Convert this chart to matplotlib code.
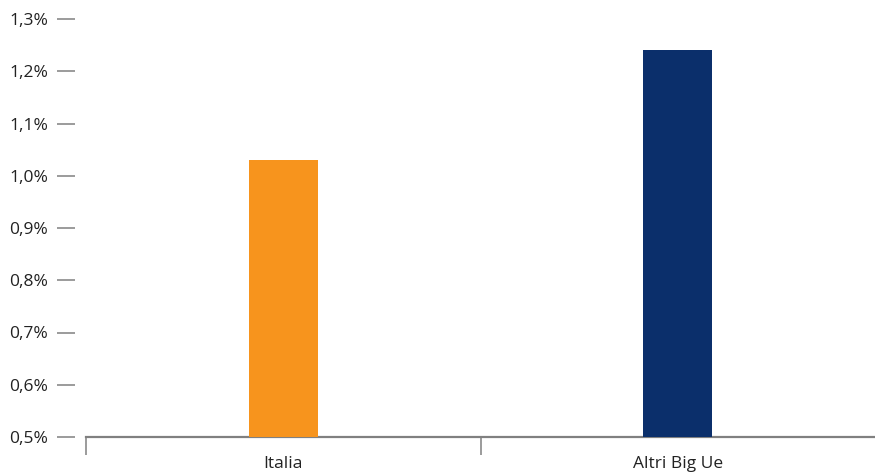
import matplotlib.pyplot as plt

categories = ['Italia', 'Altri Big Ue']
values = [1.03, 1.24]
colors = ['#F7941D', '#0B2F6B']
ytick_vals = [0.5, 0.6, 0.7, 0.8, 0.9, 1.0, 1.1, 1.2, 1.3]
ytick_labels = ['0,5%', '0,6%', '0,7%', '0,8%', '0,9%', '1,0%', '1,1%', '1,2%', '1,3%']

plt.rcParams['font.family'] = ['Open Sans', 'DejaVu Sans']

fig = plt.figure(figsize=(8.75, 4.75), dpi=100)
ax = fig.add_axes([86 / 875, 1 - 437 / 475, 1 - 86 / 875, (437 - 19) / 475])

ax.bar(range(len(categories)), values, width=0.175, color=colors, zorder=3)

ax.set_ylim(0.5, 1.3)
ax.set_xlim(-0.5, 1.5)

# y axis: floating tick dashes, no spine
ax.spines['left'].set_position(('outward', 7.9))
ax.spines['left'].set_visible(False)
ax.spines['right'].set_visible(False)
ax.spines['top'].set_visible(False)
ax.spines['bottom'].set_color('#808080')
ax.spines['bottom'].set_linewidth(1.6)

ax.set_yticks(ytick_vals)
ax.set_yticklabels(ytick_labels)
ax.tick_params(axis='y', direction='out', length=13, width=1.1, color='#808080',
               pad=6.5, labelsize=12.5, labelcolor='#222222')

# x axis: labels centred, separators as minor ticks
ax.set_xticks(range(len(categories)))
ax.set_xticklabels(categories)
ax.tick_params(axis='x', which='major', length=0, pad=13.5, labelsize=12.5,
               labelcolor='#222222')
ax.set_xticks([-0.5, 0.5], minor=True)
ax.tick_params(axis='x', which='minor', direction='out', length=13, width=1.1,
               color='#808080')

fig.savefig('out.png', dpi=100)
